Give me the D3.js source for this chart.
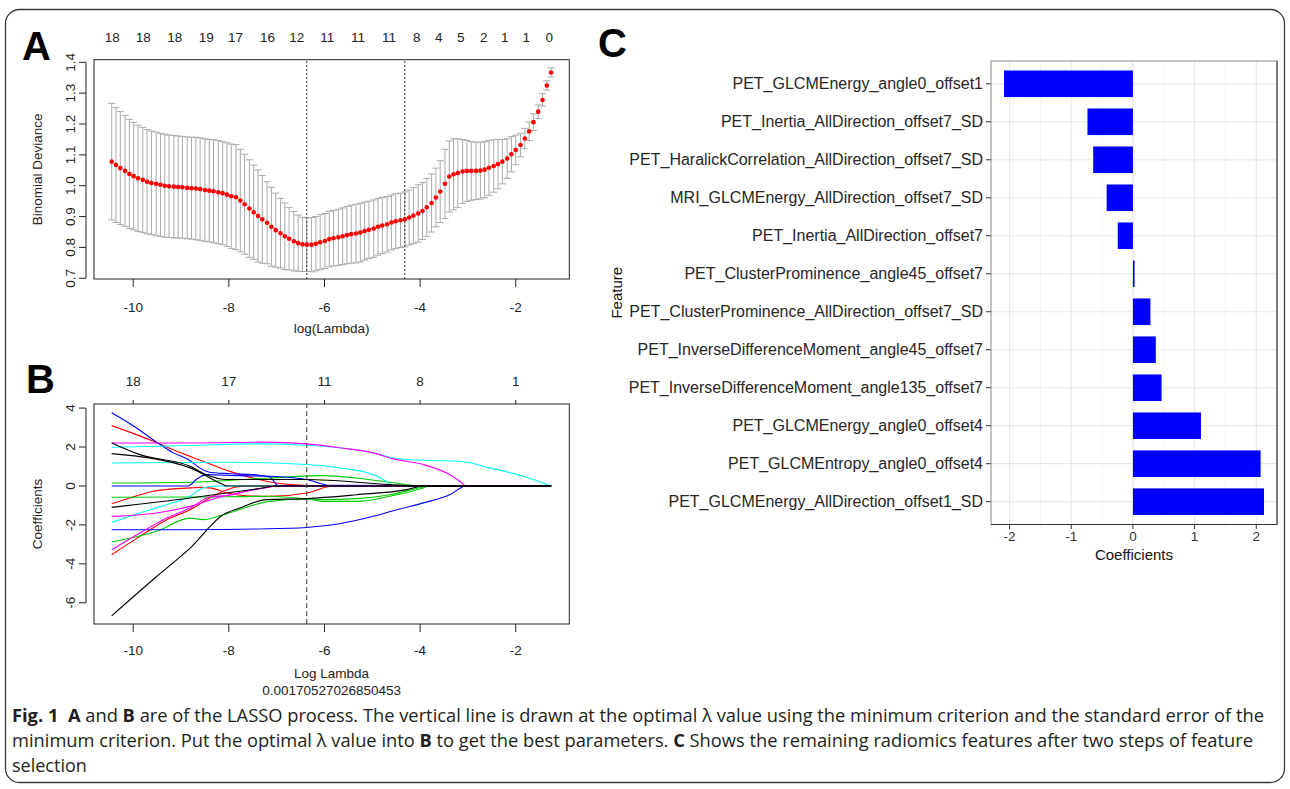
<!DOCTYPE html>
<html>
<head>
<meta charset="utf-8">
<script src="https://cdn.jsdelivr.net/npm/d3@7"></script>
<style>
body { margin: 0; background: #fff; }
svg text { font-family: "Liberation Sans", Arial, sans-serif; }
</style>
</head>
<body>
<svg id="fig" width="1290" height="789"></svg>
<script>
// ---------- panel A: cross-validation curve ----------
const logLambda = [-10.45,-10.36,-10.27,-10.17,-10.08,-9.99,-9.90,-9.80,-9.71,-9.62,
  -9.52,-9.43,-9.34,-9.25,-9.15,-9.06,-8.97,-8.87,-8.78,-8.69,
  -8.60,-8.50,-8.41,-8.32,-8.22,-8.13,-8.04,-7.95,-7.85,-7.76,
  -7.67,-7.57,-7.48,-7.39,-7.30,-7.20,-7.11,-7.02,-6.92,-6.83,
  -6.74,-6.64,-6.55,-6.46,-6.37,-6.27,-6.18,-6.09,-5.99,-5.90,
  -5.81,-5.71,-5.62,-5.53,-5.44,-5.34,-5.25,-5.16,-5.07,-4.97,
  -4.88,-4.79,-4.69,-4.60,-4.51,-4.41,-4.32,-4.23,-4.14,-4.04,
  -3.95,-3.86,-3.76,-3.67,-3.58,-3.48,-3.39,-3.30,-3.21,-3.11,
  -3.02,-2.93,-2.83,-2.74,-2.65,-2.56,-2.46,-2.37,-2.28,-2.18,
  -2.09,-2.00,-1.90,-1.81,-1.72,-1.63,-1.53,-1.44,-1.35,-1.26];

const cvMean = [1.078,1.067,1.057,1.048,1.038,1.031,1.024,1.019,1.013,1.009,
  1.006,1.003,1.000,0.998,0.997,0.996,0.995,0.993,0.992,0.991,
  0.989,0.986,0.984,0.982,0.979,0.976,0.971,0.966,0.963,0.952,
  0.940,0.926,0.914,0.902,0.891,0.880,0.867,0.856,0.846,0.836,
  0.828,0.820,0.814,0.810,0.809,0.809,0.812,0.817,0.821,0.827,
  0.830,0.833,0.836,0.840,0.843,0.845,0.848,0.853,0.857,0.861,
  0.867,0.871,0.875,0.881,0.885,0.888,0.891,0.897,0.903,0.910,
  0.918,0.930,0.944,0.962,0.981,1.006,1.030,1.037,1.041,1.046,
  1.048,1.048,1.048,1.049,1.052,1.058,1.064,1.070,1.078,1.088,
  1.102,1.116,1.132,1.153,1.176,1.206,1.240,1.278,1.325,1.367];

const cvSd = [0.189,0.186,0.183,0.180,0.177,0.174,0.172,0.170,0.169,0.168,
  0.168,0.167,0.167,0.166,0.166,0.165,0.165,0.165,0.165,0.166,
  0.166,0.166,0.166,0.167,0.167,0.167,0.168,0.169,0.170,0.166,
  0.162,0.158,0.153,0.149,0.142,0.133,0.128,0.120,0.113,0.108,
  0.101,0.096,0.091,0.088,0.087,0.088,0.088,0.089,0.089,0.090,
  0.090,0.091,0.092,0.093,0.094,0.095,0.095,0.094,0.093,0.093,
  0.092,0.091,0.090,0.089,0.089,0.088,0.089,0.089,0.091,0.093,
  0.092,0.094,0.094,0.095,0.100,0.112,0.115,0.115,0.111,0.104,
  0.099,0.095,0.093,0.092,0.091,0.089,0.085,0.080,0.072,0.064,
  0.057,0.048,0.038,0.033,0.030,0.027,0.022,0.020,0.015,0.015];

const nzA = [18,18,18,19,17,16,12,11,11,11,8,4,5,2,1,1,0];
const nzAAt = [-10.44,-9.79,-9.13,-8.47,-7.86,-7.19,-6.58,-5.94,-5.30,-4.65,-4.07,-3.61,-3.15,-2.67,-2.23,-1.78,-1.30];
const lambdaMin = -6.37;
const lambda1se = -4.32;
const yTicksA = [0.7,0.8,0.9,1.0,1.1,1.2,1.3,1.4];
const xTicks = [-10,-8,-6,-4,-2];

// ---------- panel B: coefficient paths ----------
const nzB = [18,17,11,8,1];
const nzBAt = [-10,-8,-6,-4,-2];
const yTicksB = [-6,-4,-2,0,2,4];
const lambdaB = -6.37;

const pathBlue1 = [[-10.45,3.76],[-9.93,2.98],[-9.51,2.25],[-9.16,1.70],[-8.85,1.36],[-8.61,0.93],[-8.43,0.72],[-7.98,0.63],[-7.42,0.57],[-7.14,0.46],[-6.97,0.02]];
const pathBlue2 = [[-10.45,0],[-8.85,0],[-8.68,0.33],[-8.47,0.58],[-7.77,0.53],[-7.14,0.50],[-6.37,0.33],[-5.89,0.03]];
const pathBlue3 = [[-10.45,-2.25],[-8.81,-2.25],[-7.42,-2.21],[-6.37,-2.13],[-5.68,-1.94],[-4.98,-1.56],[-4.49,-1.22],[-3.93,-0.87],[-3.38,-0.45],[-3.04,0]];
const pathRed1 = [[-10.45,3.10],[-9.58,2.30],[-9.09,1.78],[-8.54,1.27],[-7.98,0.75],[-7.42,0.36],[-7.00,0.15],[-6.44,0.03],[-6.03,0]];
const pathRed2 = [[-10.45,-0.91],[-10.07,-0.62],[-9.58,-0.27],[-8.81,-0.10],[-8.61,-0.07],[-8.40,-0.10],[-7.98,-0.39],[-7.63,-0.50],[-7.14,-0.53],[-6.37,-0.36],[-5.82,0]];
const pathRed3 = [[-10.45,-3.53],[-9.86,-2.59],[-9.30,-1.73],[-8.81,-1.22],[-8.40,-0.62],[-8.12,-0.27],[-7.84,-0.05],[-7.56,0]];
const pathMagenta1 = [[-10.45,2.21],[-8.81,2.21],[-7.28,2.25],[-6.37,2.16],[-5.68,1.96],[-4.98,1.70],[-4.56,1.39],[-3.93,1.10],[-3.38,0.58],[-3.17,0.24],[-3.04,0]];
const pathMagenta2 = [[-10.45,-3.28],[-9.86,-2.42],[-9.30,-1.65],[-8.81,-1.13],[-8.40,-0.57],[-7.91,-0.45],[-7.63,-0.27],[-7.14,-0.05],[-7.00,0]];
const pathMagenta3 = [[-10.45,-1.56],[-9.51,-1.39],[-8.81,-1.05],[-8.12,-0.53],[-7.63,-0.27],[-7.14,-0.05],[-7.00,0]];
const pathCyan1 = [[-10.45,1.99],[-8.81,2.08],[-7.42,2.16],[-6.37,2.09],[-5.68,1.96],[-4.98,1.70],[-4.56,1.44],[-3.93,1.32],[-3.17,1.27],[-2.54,0.93],[-1.84,0.50],[-1.26,0]];
const pathCyan2 = [[-10.45,1.18],[-8.12,1.22],[-6.37,1.10],[-5.68,0.93],[-4.98,0.58],[-4.77,0.33],[-4.56,0]];
const pathCyan3 = [[-10.45,-1.87],[-9.86,-1.39],[-9.30,-0.96],[-8.81,-0.53],[-8.54,-0.10],[-8.26,0]];
const pathGreen1 = [[-10.45,0.15],[-8.81,0.19],[-7.14,0.41],[-6.03,0.53],[-5.33,0.41],[-4.63,0.19],[-3.93,0]];
const pathGreen2 = [[-10.45,-0.58],[-8.81,-0.57],[-7.14,-0.53],[-6.03,-0.70],[-5.33,-0.65],[-4.63,-0.45],[-3.93,-0.05],[-3.80,0]];
const pathGreen3 = [[-10.45,-2.88],[-9.51,-2.33],[-8.81,-1.65],[-8.54,-1.73],[-8.12,-1.48],[-7.14,-0.79],[-6.37,-0.67],[-6.03,-0.79],[-5.33,-0.79],[-4.63,-0.53],[-3.93,-0.10],[-3.80,0]];
const pathBlack1 = [[-10.45,2.21],[-9.86,1.61],[-8.81,1.01],[-8.47,0.58],[-8.05,0.33],[-7.42,0.33],[-6.37,0.33],[-4.63,0.07],[-3.93,0]];
const pathBlack2 = [[-10.45,1.66],[-8.81,0.93],[-8.12,0.07],[-8.05,0]];
const pathBlack3 = [[-10.45,-1.10],[-8.81,-0.62],[-7.42,-0.15],[-7.00,0]];
const pathBlack4 = [[-10.45,-6.67],[-9.51,-4.65],[-8.81,-3.19],[-8.12,-1.48],[-7.77,-1.13],[-7.21,-0.70],[-6.37,-0.65],[-5.33,-0.45],[-4.28,-0.19],[-3.93,0]];

// ---------- panel C: remaining features ----------
const features = ['PET_GLCMEnergy_angle0_offset1','PET_Inertia_AllDirection_offset7_SD',
  'PET_HaralickCorrelation_AllDirection_offset7_SD','MRI_GLCMEnergy_AllDirection_offset7_SD',
  'PET_Inertia_AllDirection_offset7','PET_ClusterProminence_angle45_offset7',
  'PET_ClusterProminence_AllDirection_offset7_SD','PET_InverseDifferenceMoment_angle45_offset7',
  'PET_InverseDifferenceMoment_angle135_offset7','PET_GLCMEnergy_angle0_offset4',
  'PET_GLCMEntropy_angle0_offset4','PET_GLCMEnergy_AllDirection_offset1_SD'];
const coefs = [-2.09,-0.737,-0.644,-0.426,-0.246,0.027,0.284,0.371,0.464,1.103,2.07,2.125];
const xTicksC = [-2,-1,0,1,2];

// ---------- caption ----------
const captionLines = [
  [['Fig. 1', true], ['  ', false], ['A', true], [' and ', false], ['B', true],
   [' are of the LASSO process. The vertical line is drawn at the optimal \u03bb value using the minimum criterion and the standard error of the', false]],
  [['minimum criterion. Put the optimal \u03bb value into ', false], ['B', true],
   [' to get the best parameters. ', false], ['C', true],
   [' Shows the remaining radiomics features after two steps of feature', false]],
  [['selection', false]]
];

const svg = d3.select('svg#fig');
const fs = 13.5;
const ink = '#222';

// outer frame
svg.append('rect')
  .attr('x', 5.5).attr('y', 9.5).attr('width', 1279).attr('height', 773)
  .attr('rx', 14).attr('fill', 'none').attr('stroke', '#3a3a3a').attr('stroke-width', 1.3);

// panel letters
const letters = [['A', 22, 60], ['B', 26, 393], ['C', 598, 57]];
svg.selectAll('text.letter').data(letters).enter().append('text')
  .attr('class', 'letter')
  .attr('x', d => d[1]).attr('y', d => d[2])
  .attr('font-size', 40).attr('font-weight', 700).attr('fill', '#000')
  .text(d => d[0]);

// R style axes
const rLeftAxis = (g, y, ticks, xLine, fmt) => {
  g.append('line')
    .attr('x1', xLine).attr('x2', xLine)
    .attr('y1', y(ticks[0])).attr('y2', y(ticks[ticks.length - 1]))
    .attr('stroke', ink);
  g.selectAll(null).data(ticks).enter().append('line')
    .attr('x1', xLine - 7).attr('x2', xLine)
    .attr('y1', d => y(d)).attr('y2', d => y(d))
    .attr('stroke', ink);
  g.selectAll(null).data(ticks).enter().append('text')
    .attr('transform', d => `translate(${xLine - 16},${y(d)}) rotate(-90)`)
    .attr('text-anchor', 'middle').attr('dy', '0.35em')
    .attr('font-size', fs).attr('fill', ink)
    .text(fmt);
};

const rBottomAxis = (g, x, ticks, yLine, labelY) => {
  g.selectAll(null).data(ticks).enter().append('line')
    .attr('x1', d => x(d)).attr('x2', d => x(d))
    .attr('y1', yLine).attr('y2', yLine + 8)
    .attr('stroke', ink);
  g.selectAll(null).data(ticks).enter().append('text')
    .attr('x', d => x(d)).attr('y', labelY)
    .attr('text-anchor', 'middle')
    .attr('font-size', fs).attr('fill', ink)
    .text(d => String(d));
};

// ================= panel A =================
const xA = d3.scaleLinear().domain([-10.82, -0.88]).range([94, 569.3]);
const yA = d3.scaleLinear().domain([0.6977, 1.4084]).range([279, 59.7]);
const gA = svg.append('g');

const cvData = logLambda.map((l, i) => ({l: l, m: cvMean[i], s: cvSd[i]}));

// error bars
const bars = gA.append('g').attr('stroke', '#a9a9a9').attr('stroke-width', 1);
bars.selectAll('line.v').data(cvData).enter().append('line')
  .attr('x1', d => xA(d.l)).attr('x2', d => xA(d.l))
  .attr('y1', d => yA(d.m - d.s)).attr('y2', d => yA(d.m + d.s));
bars.selectAll('line.top').data(cvData).enter().append('line')
  .attr('x1', d => xA(d.l) - 3.5).attr('x2', d => xA(d.l) + 3.5)
  .attr('y1', d => yA(d.m + d.s)).attr('y2', d => yA(d.m + d.s));
bars.selectAll('line.bot').data(cvData).enter().append('line')
  .attr('x1', d => xA(d.l) - 3.5).attr('x2', d => xA(d.l) + 3.5)
  .attr('y1', d => yA(d.m - d.s)).attr('y2', d => yA(d.m - d.s));

// dotted lambda lines
gA.selectAll('line.lam').data([lambdaMin, lambda1se]).enter().append('line')
  .attr('x1', d => xA(d)).attr('x2', d => xA(d))
  .attr('y1', yA.range()[0]).attr('y2', yA.range()[1])
  .attr('stroke', '#333').attr('stroke-dasharray', '2,2');

// points
gA.selectAll('circle').data(cvData).enter().append('circle')
  .attr('cx', d => xA(d.l)).attr('cy', d => yA(d.m))
  .attr('r', 2.3).attr('fill', '#ff0000');

// box
gA.append('rect')
  .attr('x', xA.range()[0]).attr('y', yA.range()[1])
  .attr('width', xA.range()[1] - xA.range()[0])
  .attr('height', yA.range()[0] - yA.range()[1])
  .attr('fill', 'none').attr('stroke', ink);

rLeftAxis(gA, yA, yTicksA, 86, d => d3.format('.1f')(d));
rBottomAxis(gA, xA, xTicks, 279, 311.5);

gA.selectAll('text.nz').data(nzA).enter().append('text')
  .attr('x', (d, i) => xA(nzAAt[i])).attr('y', 42)
  .attr('text-anchor', 'middle').attr('font-size', fs).attr('fill', ink)
  .text(d => d);

gA.append('text').attr('x', 331.6).attr('y', 333)
  .attr('text-anchor', 'middle').attr('font-size', fs).attr('fill', ink)
  .text('log(Lambda)');
gA.append('text').attr('transform', 'translate(37,169.4) rotate(-90)')
  .attr('text-anchor', 'middle').attr('dy', '0.35em')
  .attr('font-size', fs).attr('fill', ink)
  .text('Binomial Deviance');

// ================= panel B =================
const xB = d3.scaleLinear().domain([-10.82, -0.88]).range([94, 569.3]);
const yB = d3.scaleLinear().domain([-7.09, 4.21]).range([624, 404]);
const gB = svg.append('g');

const lastLambda = logLambda[logLambda.length - 1];
const paths = [
  {p: pathRed1, c: '#ff0000'}, {p: pathRed2, c: '#ff0000'}, {p: pathRed3, c: '#ff0000'},
  {p: pathGreen1, c: '#00cd00'}, {p: pathGreen2, c: '#00cd00'}, {p: pathGreen3, c: '#00cd00'},
  {p: pathBlue1, c: '#0000ff'}, {p: pathBlue2, c: '#0000ff'}, {p: pathBlue3, c: '#0000ff'},
  {p: pathCyan1, c: '#00ffff'}, {p: pathCyan2, c: '#00ffff'}, {p: pathCyan3, c: '#00ffff'},
  {p: pathMagenta1, c: '#ff00ff'}, {p: pathMagenta2, c: '#ff00ff'}, {p: pathMagenta3, c: '#ff00ff'},
  {p: pathBlack1, c: '#000000'}, {p: pathBlack2, c: '#000000'}, {p: pathBlack3, c: '#000000'},
  {p: pathBlack4, c: '#000000'}
];
const lineB = d3.line().x(d => xB(d[0])).y(d => yB(d[1])).curve(d3.curveMonotoneX);

gB.selectAll('path.coef').data(paths).enter().append('path')
  .attr('class', 'coef')
  .attr('d', d => {
    const last = d.p[d.p.length - 1];
    const pts = last[0] < lastLambda ? d.p.concat([[lastLambda, 0]]) : d.p;
    return lineB(pts);
  })
  .attr('fill', 'none').attr('stroke', d => d.c).attr('stroke-width', 1.1);

gB.append('line')
  .attr('x1', xB(lambdaB)).attr('x2', xB(lambdaB))
  .attr('y1', yB.range()[0]).attr('y2', yB.range()[1])
  .attr('stroke', '#333').attr('stroke-dasharray', '5,3');

gB.append('rect')
  .attr('x', xB.range()[0]).attr('y', yB.range()[1])
  .attr('width', xB.range()[1] - xB.range()[0])
  .attr('height', yB.range()[0] - yB.range()[1])
  .attr('fill', 'none').attr('stroke', ink);

rLeftAxis(gB, yB, yTicksB, 86, d => String(d));
rBottomAxis(gB, xB, xTicks, 624, 655);

gB.selectAll('line.top').data(nzBAt).enter().append('line')
  .attr('x1', d => xB(d)).attr('x2', d => xB(d))
  .attr('y1', 404).attr('y2', 400).attr('stroke', ink);
gB.selectAll('text.nz').data(nzB).enter().append('text')
  .attr('x', (d, i) => xB(nzBAt[i])).attr('y', 385.5)
  .attr('text-anchor', 'middle').attr('font-size', fs).attr('fill', ink)
  .text(d => d);

gB.append('text').attr('x', 331.6).attr('y', 678)
  .attr('text-anchor', 'middle').attr('font-size', fs).attr('fill', ink)
  .text('Log Lambda');
gB.append('text').attr('x', 331.6).attr('y', 695)
  .attr('text-anchor', 'middle').attr('font-size', fs).attr('fill', ink)
  .text('0.00170527026850453');
gB.append('text').attr('transform', 'translate(37,514) rotate(-90)')
  .attr('text-anchor', 'middle').attr('dy', '0.35em')
  .attr('font-size', fs).attr('fill', ink)
  .text('Coefficients');

// ================= panel C =================
const cPad = (d3.max(coefs) - d3.min(coefs)) * 0.05;
const xC = d3.scaleLinear().domain([d3.min(coefs) - cPad, d3.max(coefs) + cPad]).range([991, 1277]);
const yC = d3.scaleBand().domain(features).range([61, 524.5]).paddingInner(0.3).paddingOuter(0.25);
const gC = svg.append('g');

const minorC = xTicksC.slice(1).map((t, i) => (t + xTicksC[i]) / 2);
gC.selectAll('line.minor').data(minorC).enter().append('line')
  .attr('x1', d => xC(d)).attr('x2', d => xC(d))
  .attr('y1', 61).attr('y2', 524.5)
  .attr('stroke', '#f3f3f3').attr('stroke-width', 1);
gC.selectAll('line.majx').data(xTicksC).enter().append('line')
  .attr('x1', d => xC(d)).attr('x2', d => xC(d))
  .attr('y1', 61).attr('y2', 524.5)
  .attr('stroke', '#e8e8e8').attr('stroke-width', 1.2);
gC.selectAll('line.majy').data(features).enter().append('line')
  .attr('x1', 991).attr('x2', 1277)
  .attr('y1', d => yC(d) + yC.bandwidth() / 2).attr('y2', d => yC(d) + yC.bandwidth() / 2)
  .attr('stroke', '#e8e8e8').attr('stroke-width', 1.2);

gC.selectAll('rect.bar').data(features).enter().append('rect')
  .attr('class', 'bar')
  .attr('x', (d, i) => xC(Math.min(0, coefs[i])))
  .attr('width', (d, i) => Math.abs(xC(coefs[i]) - xC(0)))
  .attr('y', d => yC(d))
  .attr('height', yC.bandwidth())
  .attr('fill', '#0000ff');

gC.append('rect')
  .attr('x', 991).attr('y', 61).attr('width', 286).attr('height', 463.5)
  .attr('fill', 'none').attr('stroke', '#8a8a8a');
gC.append('line').attr('x1', 991).attr('x2', 1277).attr('y1', 524.5).attr('y2', 524.5).attr('stroke', '#333');
gC.append('line').attr('x1', 1277).attr('x2', 1277).attr('y1', 61).attr('y2', 524.5).attr('stroke', '#333');

gC.selectAll('line.ty').data(features).enter().append('line')
  .attr('x1', 986).attr('x2', 991)
  .attr('y1', d => yC(d) + yC.bandwidth() / 2).attr('y2', d => yC(d) + yC.bandwidth() / 2)
  .attr('stroke', '#333');
gC.selectAll('text.ty').data(features).enter().append('text')
  .attr('x', 983).attr('y', d => yC(d) + yC.bandwidth() / 2).attr('dy', '0.35em')
  .attr('text-anchor', 'end').attr('font-size', 16).attr('fill', '#262626')
  .text(d => d);

gC.selectAll('line.tx').data(xTicksC).enter().append('line')
  .attr('x1', d => xC(d)).attr('x2', d => xC(d))
  .attr('y1', 524.5).attr('y2', 529)
  .attr('stroke', '#333');
gC.selectAll('text.tx').data(xTicksC).enter().append('text')
  .attr('x', d => xC(d)).attr('y', 541)
  .attr('text-anchor', 'middle').attr('font-size', 13.5).attr('fill', '#333')
  .text(d => String(d));

gC.append('text').attr('x', 1134).attr('y', 560)
  .attr('text-anchor', 'middle').attr('font-size', 15).attr('fill', '#111')
  .text('Coefficients');
gC.append('text').attr('transform', 'translate(617,292.7) rotate(-90)')
  .attr('text-anchor', 'middle').attr('dy', '0.35em')
  .attr('font-size', 15).attr('fill', '#111')
  .text('Feature');

// ================= caption =================
const capY = [722, 747, 772];
const capLen = [1252, 1241, null];
captionLines.forEach((segs, li) => {
  const t = svg.append('text')
    .attr('x', 12).attr('y', capY[li])
    .attr('font-size', 18).attr('fill', '#231f20')
    .style('font-family', '"Open Sans", "Noto Sans", sans-serif')
    .style('white-space', 'pre');
  if (capLen[li]) t.attr('textLength', capLen[li]).attr('lengthAdjust', 'spacingAndGlyphs');
  segs.forEach(s => {
    t.append('tspan').attr('font-weight', s[1] ? 700 : 400).text(s[0]);
  });
});
</script>
</body>
</html>
